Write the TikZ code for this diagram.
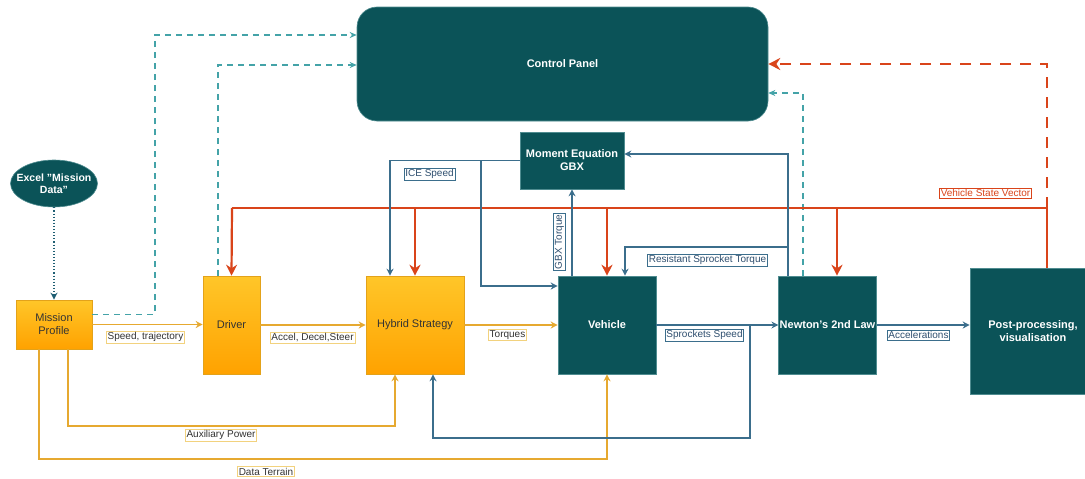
\documentclass[tikz,border=0pt]{standalone}
\usepackage{fontspec}
\setmainfont{Liberation Sans}
\usetikzlibrary{arrows.meta,calc,shapes.geometric}
\definecolor{tealbox}{HTML}{0B5358}
\definecolor{tealedge}{HTML}{4F8C90}
\definecolor{orgtop}{HTML}{FFC629}
\definecolor{orgbot}{HTML}{FFA200}
\definecolor{orgedge}{HTML}{E3A21A}
\definecolor{orgline}{HTML}{E6A930}
\definecolor{orglab}{HTML}{F2D27E}
\definecolor{blueline}{HTML}{3B6E8C}
\definecolor{tdashc}{HTML}{44A3A8}
\definecolor{dotc}{HTML}{1F5E73}
\definecolor{redc}{HTML}{D9441A}
\definecolor{darktext}{HTML}{333333}
\definecolor{bluetext}{HTML}{2F4F6F}
\tikzset{
  tbox/.style={rectangle, fill=tealbox, draw=tealedge, line width=0.6pt, text=white,
    font=\fontsize{11}{13}\selectfont\bfseries, align=center, inner sep=1pt},
  obox/.style={rectangle, top color=orgtop, bottom color=orgbot, draw=orgedge, line width=0.6pt,
    text=darktext, font=\fontsize{11}{13}\selectfont, align=center, inner sep=1pt},
  oline/.style={draw=orgline, line width=1.2pt, -{Stealth[length=7pt,width=7pt]}},
  bline/.style={draw=blueline, line width=1.1pt, -{Stealth[length=7pt,width=7pt]}},
  tdash/.style={draw=tdashc, line width=1.1pt, dash pattern=on 6pt off 5pt, -{Stealth[length=7pt,width=6pt]}},
  redline/.style={draw=redc, line width=2.2pt},
  redarrow/.style={draw=redc, line width=2.2pt, -{Stealth[length=11pt,width=11pt]}},
  reddash/.style={draw=redc, line width=2.2pt, dash pattern=on 11pt off 9pt, -{Stealth[length=12pt,width=12pt]}},
  olab/.style={draw=orglab, fill=white, line width=0.6pt, text=darktext, inner sep=1.2pt,
    font=\fontsize{10}{11}\selectfont},
  blab/.style={draw=blueline, fill=white, line width=0.6pt, text=bluetext, inner sep=1.2pt,
    font=\fontsize{10}{11}\selectfont},
  rlab/.style={draw=redc, fill=white, line width=0.6pt, text=redc, inner sep=1.2pt,
    font=\fontsize{10}{11}\selectfont},
}
\begin{document}
\begin{tikzpicture}[x=1pt,y=-1pt]
\useasboundingbox (0,0) rectangle (1085,479);
\clip (0,0) rectangle (1085,479);
\fill[white] (0,0) rectangle (1085,479);

% nodes
\node[tbox, rounded corners=20pt, minimum width=411pt, minimum height=114pt] (cp) at (562.5,64) {Control Panel};
\node[tbox, ellipse, inner xsep=-14pt, inner ysep=-4pt, minimum width=87pt, minimum height=47pt,
  font=\fontsize{10.5}{12.5}\selectfont\bfseries] (excel) at (54,183.5) {Excel "Mission\\Data"};
\node[obox, minimum width=76pt, minimum height=49pt] (mp) at (54,324.5) {Mission\\Profile};
\node[obox, minimum width=57pt, minimum height=98pt] (drv) at (231.5,325) {Driver};
\node[obox, minimum width=98pt, minimum height=98pt] (hs) at (415,325) {Hybrid Strategy};
\node[tbox, minimum width=98pt, minimum height=98pt] (veh) at (607,325) {Vehicle};
\node[tbox, minimum width=97pt, minimum height=98pt] (nl) at (827.5,325) {Newton's 2nd Law};
\node[tbox, minimum width=126pt, minimum height=126pt] (pp) at (1033,331) {Post-processing,\\visualisation};
\node[tbox, minimum width=104pt, minimum height=57pt] (me) at (572,160.5) {Moment Equation\\GBX};

% named junctions
\coordinate (vsv) at (1047,208);
\coordinate (ice) at (481,160.5);
\coordinate (res) at (788,247);
\coordinate (spr) at (750,324);

% dotted excel -> mission
\draw[draw=dotc, line width=1.1pt, dotted, -{Stealth[length=7pt,width=7pt]}] (excel.south) -- (excel.south |- mp.north);

% dashed to control panel
\draw[tdash] ([yshift=10pt]mp.east) -| (155,35) -- (cp.west |- 0,35);
\draw[tdash] ([xshift=-13.5pt]drv.north) |- (cp.west |- 0,65);
\draw[tdash] ([xshift=-24.5pt]nl.north) |- (cp.east |- 0,93);

% red vehicle state vector
\draw[redline] (pp.north -| vsv) -- (vsv) -- (232,208);
\draw[redarrow] (232,208) -- (drv.north);
\draw[redarrow] (hs.north |- vsv) -- (hs.north);
\draw[redarrow] (veh.north |- vsv) -- (veh.north);
\draw[redarrow] ([xshift=9.5pt]nl.north |- vsv) -- ([xshift=9.5pt]nl.north);
\draw[reddash] (vsv) |- (cp.east);
\node[rlab] (lvsv) at (985.5,193) {Vehicle State Vector};

% orange flows
\draw[oline] (mp.east) -- (mp.east -| drv.west);
\node[olab] (l1) at (145.5,337) {Speed, trajectory};
\draw[oline] (drv.east) -- (hs.west);
\node[olab] (l2) at (312.5,338) {Accel, Decel,Steer};
\draw[oline] (hs.east) -- (veh.west);
\node[olab] (l3) at (507.5,335) {Torques};
\draw[oline] (mp.south -| 68,0) |- (395,426) -- (hs.south -| 395,0);
\node[olab] (l4) at (221,435) {Auxiliary Power};
\draw[oline] (mp.south -| 39,0) |- (veh.south |- 0,459) -- (veh.south);
\node[olab] (l5) at (266,471.5) {Data Terrain};

% blue flows
\draw[bline] (veh.east) -- (nl.west);
\node[blab] (l6) at (704.5,335) {Sprockets Speed};
\draw[bline] (nl.east) -- (nl.east -| pp.west);
\node[blab] (l7) at (918.5,335) {Accelerations};
\draw[bline] (spr) |- (433,438) -- (hs.south -| 433,0);

\draw[bline] (me.west) -| (hs.north -| 390,0);
\draw[bline] (ice) |- (veh.west |- 0,286);
\node[blab] (l8) at (429.5,174) {ICE Speed};

\draw[bline] (veh.north -| me.south) -- (me.south);
\node[blab, rotate=90] (l9) at (559.5,242) {GBX Torque};

\draw[bline] ([xshift=-39.5pt]nl.north) |- (me.east |- 0,154);
\draw[bline] (res) -| (veh.north -| 625,0);
\node[blab] (l10) at (707.5,260) {Resistant Sprocket Torque};
\end{tikzpicture}
\end{document}
